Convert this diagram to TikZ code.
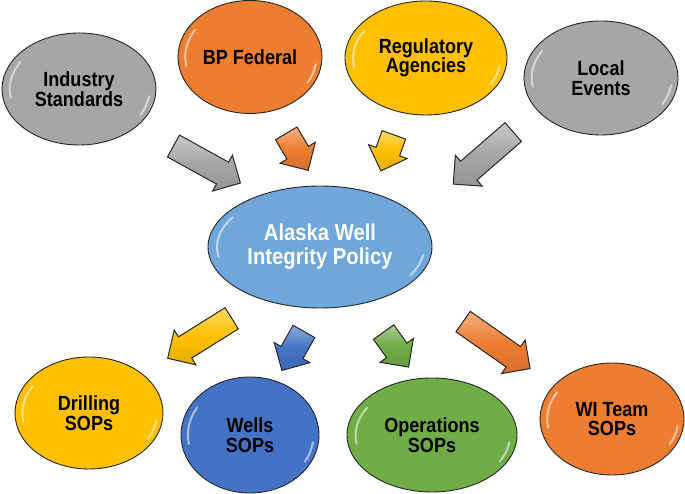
\documentclass[tikz,border=0pt]{standalone}
\usepackage{fontspec}
\setmainfont{Liberation Sans}
\newfontfamily\narrowfont{Liberation Sans}[FakeStretch=0.88]
\usetikzlibrary{shapes.geometric,shapes.arrows,calc}
\definecolor{cgray}{HTML}{A6A6A6}
\definecolor{corange}{HTML}{ED7D31}
\definecolor{cyellow}{HTML}{FFC000}
\definecolor{cblue}{HTML}{4472C4}
\definecolor{cgreen}{HTML}{70AD47}
\definecolor{ccenter}{HTML}{5B9BD5}
\colorlet{bubin}{cgray}
\colorlet{bubout}{cgray}
\pgfdeclareradialshading[bubin,bubout]{bubshade}{\pgfpoint{0bp}{0bp}}{color(0bp)=(bubin); color(38bp)=(bubin); color(50bp)=(bubout)}
\tikzset{
  bub/.style={ellipse, draw=black!85, line width=0.9pt, inner sep=0pt, align=center,
    shading=bubshade, font=\narrowfont\bfseries\fontsize{20.5}{19.5}\selectfont},
  hl/.style={white, opacity=0.55, line width=2pt, line cap=round},
  barrow/.style={single arrow, draw=black!85, line width=1pt, inner xsep=0pt, inner ysep=12pt,
    single arrow head extend=8pt, single arrow tip angle=90, single arrow head indent=0pt}
}
\newcommand{\mybub}[7]{%
  \colorlet{bubin}{#5}\colorlet{bubout}{#5!80!black}%
  \node[bub, minimum width=2*#3, minimum height=2*#4, text=#6] (#1) at (#2) {#7};
  \draw[hl] ([shift={(#2)}]148:0.9*#3 and 0.9*#4) arc[start angle=148, end angle=190, x radius=0.9*#3, y radius=0.9*#4];
  \draw[hl] ([shift={(#2)}]-30:0.92*#3 and 0.92*#4) arc[start angle=-30, end angle=-8, x radius=0.92*#3, y radius=0.92*#4];
}
\newcommand{\myarrow}[4]{%
  \path let \p1=(#2), \p2=(#3), \n1={veclen(\x2-\x1,\y2-\y1)}, \n2={atan2(\y2-\y1,\x2-\x1)} in
    node[barrow, top color=#4!60!white, bottom color=#4!90!black, middle color=#4,
      minimum height=\n1, rotate=\n2] (#1) at ($(\p1)!0.5!(\p2)$) {};
}
\begin{document}
\begin{tikzpicture}[x=1pt,y=1pt]
\useasboundingbox (0,0) rectangle (685,494);
% top row
\mybub{ind}{79,405}{77pt}{56pt}{cgray}{black}{Industry\\Standards}
\mybub{bpf}{250,437}{72pt}{56.5pt}{corange}{black}{BP Federal}
\mybub{reg}{426,436}{81pt}{57pt}{cyellow}{black}{Regulatory\\Agencies}
\mybub{loc}{601,416}{77pt}{57pt}{cgray}{black}{Local\\Events}
% center
\colorlet{bubin}{ccenter!88!white}\colorlet{bubout}{ccenter!82!black}
\node[bub, minimum width=224pt, minimum height=122pt, text=white,
  font=\narrowfont\bfseries\fontsize{23}{24}\selectfont] (awi) at (320,247) {Alaska Well\\Integrity Policy};
\draw[hl] ([shift={(320,247)}]148:0.92*112pt and 0.92*61pt) arc[start angle=148, end angle=190, x radius=0.92*112pt, y radius=0.92*61pt];
\draw[hl] ([shift={(320,247)}]-30:0.93*112pt and 0.93*61pt) arc[start angle=-30, end angle=-8, x radius=0.93*112pt, y radius=0.93*61pt];
% bottom row
\mybub{dri}{89,81}{74pt}{56pt}{cyellow}{black}{Drilling\\SOPs}
\mybub{wel}{250,59}{69pt}{58pt}{cblue}{black}{Wells\\SOPs}
\mybub{ope}{432,59}{85pt}{57pt}{cgreen}{black}{Operations\\SOPs}
\mybub{wit}{612,75}{72pt}{56pt}{corange}{black}{WI Team\\SOPs}
% arrow end points
\coordinate (t1) at (168,351); \coordinate (h1) at (235,314);
\coordinate (t2) at (283,366); \coordinate (h2) at (305,329);
\coordinate (t3) at (396,365); \coordinate (h3) at (383,329);
\coordinate (t4) at (518,366); \coordinate (h4) at (458,314);
\coordinate (u1) at (237,179); \coordinate (k1) at (173,139);
\coordinate (u2) at (307,168); \coordinate (k2) at (285,129);
\coordinate (u3) at (380,167); \coordinate (k3) at (405,132);
\coordinate (u4) at (458,176); \coordinate (k4) at (525,129);
\myarrow{a1}{t1}{h1}{cgray}
\myarrow{a2}{t2}{h2}{corange}
\myarrow{a3}{t3}{h3}{cyellow}
\myarrow{a4}{t4}{h4}{cgray}
\myarrow{b1}{u1}{k1}{cyellow}
\myarrow{b2}{u2}{k2}{cblue}
\myarrow{b3}{u3}{k3}{cgreen}
\myarrow{b4}{u4}{k4}{corange}
\end{tikzpicture}
\end{document}
